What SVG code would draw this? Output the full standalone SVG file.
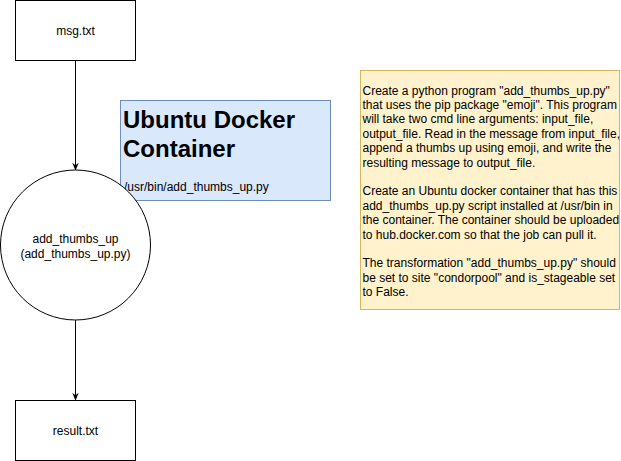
<svg xmlns="http://www.w3.org/2000/svg" width="621" height="461" viewBox="0 0 621 461">
<defs>
<style>
text{font-family:"Liberation Sans",Arial,sans-serif;fill:#000}
.n{fill:#fff;stroke:#000;stroke-width:1}
.t{font-size:12px}
.c{text-anchor:middle}
.e{stroke:#000;stroke-width:1;fill:none}
</style>
<marker id="ah" viewBox="0 0 10 10" refX="9" refY="5" markerWidth="8" markerHeight="8" markerUnits="userSpaceOnUse" orient="auto"><path d="M0,1 L10,5 L0,9 L3,5 Z" fill="#000"/></marker>
</defs>
<rect width="621" height="461" fill="#fff"/>
<g id="docker">
<rect x="120.5" y="100.5" width="210" height="100" fill="#dae8fc" stroke="#6c8ebf"/>
<text x="123" y="128" font-size="24" font-weight="bold">Ubuntu Docker</text>
<text x="123" y="157" font-size="24" font-weight="bold">Container</text>
<text class="t" x="124" y="191">/usr/bin/add_thumbs_up.py</text>
</g>
<g id="note">
<rect x="360.5" y="70.5" width="259" height="239" fill="#fff2cc" stroke="#d6b656"/>
<text class="t" x="362.5" y="94.5">
<tspan x="362.5" dy="0">Create a python program "add_thumbs_up.py"</tspan>
<tspan x="362.5" dy="14.4">that uses the pip package "emoji". This program</tspan>
<tspan x="362.5" dy="14.4">will take two cmd line arguments: input_file,</tspan>
<tspan x="362.5" dy="14.4">output_file. Read in the message from input_file,</tspan>
<tspan x="362.5" dy="14.4">append a thumbs up using emoji, and write the</tspan>
<tspan x="362.5" dy="14.4">resulting message to output_file.</tspan>
<tspan x="362.5" dy="28.8">Create an Ubuntu docker container that has this</tspan>
<tspan x="362.5" dy="14.4">add_thumbs_up.py script installed at /usr/bin in</tspan>
<tspan x="362.5" dy="14.4">the container. The container should be uploaded</tspan>
<tspan x="362.5" dy="14.4">to hub.docker.com so that the job can pull it.</tspan>
<tspan x="362.5" dy="28.8">The transformation "add_thumbs_up.py" should</tspan>
<tspan x="362.5" dy="14.4">be set to site "condorpool" and is_stageable set</tspan>
<tspan x="362.5" dy="14.4">to False.</tspan>
</text>
</g>
<g id="connectors">
<line class="e" x1="75.5" y1="60.5" x2="75.5" y2="170" marker-end="url(#ah)"/>
<line class="e" x1="75.5" y1="320" x2="75.5" y2="400" marker-end="url(#ah)"/>
</g>
<g id="msg">
<rect class="n" x="15.5" y="0.5" width="120" height="60"/>
<text class="t c" x="75.5" y="35">msg.txt</text>
</g>
<g id="job">
<circle class="n" cx="75.5" cy="245" r="75"/>
<text class="t c" x="75.5" y="243">add_thumbs_up</text>
<text class="t c" x="75.5" y="258">(add_thumbs_up.py)</text>
</g>
<g id="result">
<rect class="n" x="15.5" y="400.5" width="120" height="60"/>
<text class="t c" x="75.5" y="435">result.txt</text>
</g>
</svg>
